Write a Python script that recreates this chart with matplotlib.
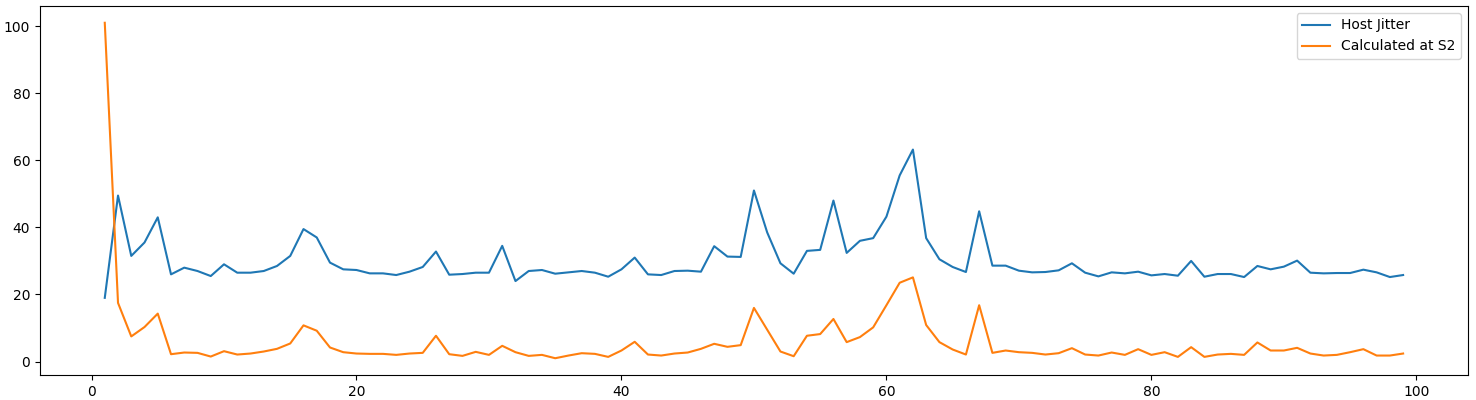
import matplotlib
matplotlib.use("Agg")
import matplotlib.pyplot as plt
import numpy as np

# sample index 1..99
steps = np.arange(1, 100)

host_jitter = [
    19, 49.5, 31.5, 35.5, 43, 26, 28, 27, 25.5, 29,
    26.5, 26.5, 27, 28.5, 31.5, 39.5, 37, 29.5, 27.5, 27.3,
    26.3, 26.3, 25.8, 26.8, 28.2, 32.8, 25.9, 26.1, 26.5, 26.5,
    34.5, 24, 27, 27.3, 26.2, 26.6, 27, 26.5, 25.3, 27.5,
    31, 26, 25.8, 27, 27.1, 26.8, 34.4, 31.3, 31.2, 51,
    38.5, 29.3, 26.2, 33, 33.3, 48, 32.4, 36, 36.8, 43.2,
    55.5, 63.2, 36.8, 30.5, 28.2, 26.7, 44.8, 28.6, 28.6, 27.1,
    26.6, 26.7, 27.2, 29.3, 26.5, 25.4, 26.6, 26.3, 26.8, 25.7,
    26.1, 25.6, 30, 25.3, 26.1, 26.1, 25.2, 28.5, 27.5, 28.3,
    30.1, 26.5, 26.3, 26.4, 26.4, 27.4, 26.6, 25.2, 25.8,
]

calc_s2 = [
    101, 17.5, 7.5, 10.3, 14.3, 2.2, 2.7, 2.6, 1.5, 3.1,
    2.1, 2.4, 3, 3.8, 5.4, 10.8, 9.2, 4.2, 2.8, 2.4,
    2.3, 2.3, 2, 2.4, 2.6, 7.7, 2.2, 1.7, 2.9, 2,
    4.7, 2.8, 1.7, 2, 1, 1.8, 2.5, 2.3, 1.4, 3.3,
    5.9, 2.1, 1.8, 2.4, 2.7, 3.8, 5.3, 4.4, 4.9, 16,
    9.5, 3, 1.6, 7.7, 8.2, 12.7, 5.8, 7.3, 10.2, 16.8,
    23.5, 25.1, 10.9, 5.8, 3.6, 2.1, 16.8, 2.6, 3.3, 2.8,
    2.6, 2.1, 2.5, 4, 2.1, 1.8, 2.7, 2, 3.7, 2,
    2.8, 1.4, 4.3, 1.4, 2.1, 2.3, 2, 5.7, 3.3, 3.3,
    4.1, 2.4, 1.8, 2, 2.8, 3.7, 1.8, 1.8, 2.4,
]

fig, ax = plt.subplots(figsize=(14.76, 4.0), dpi=100)
ax.plot(steps, host_jitter, label="Host Jitter")
ax.plot(steps, calc_s2, label="Calculated at S2")
ax.set_xlim(-3.9, 103.9)
ax.legend(loc="upper right")
plt.subplots_adjust(left=0.027, right=0.9946, top=0.985, bottom=0.0625)
plt.savefig("out.png")
